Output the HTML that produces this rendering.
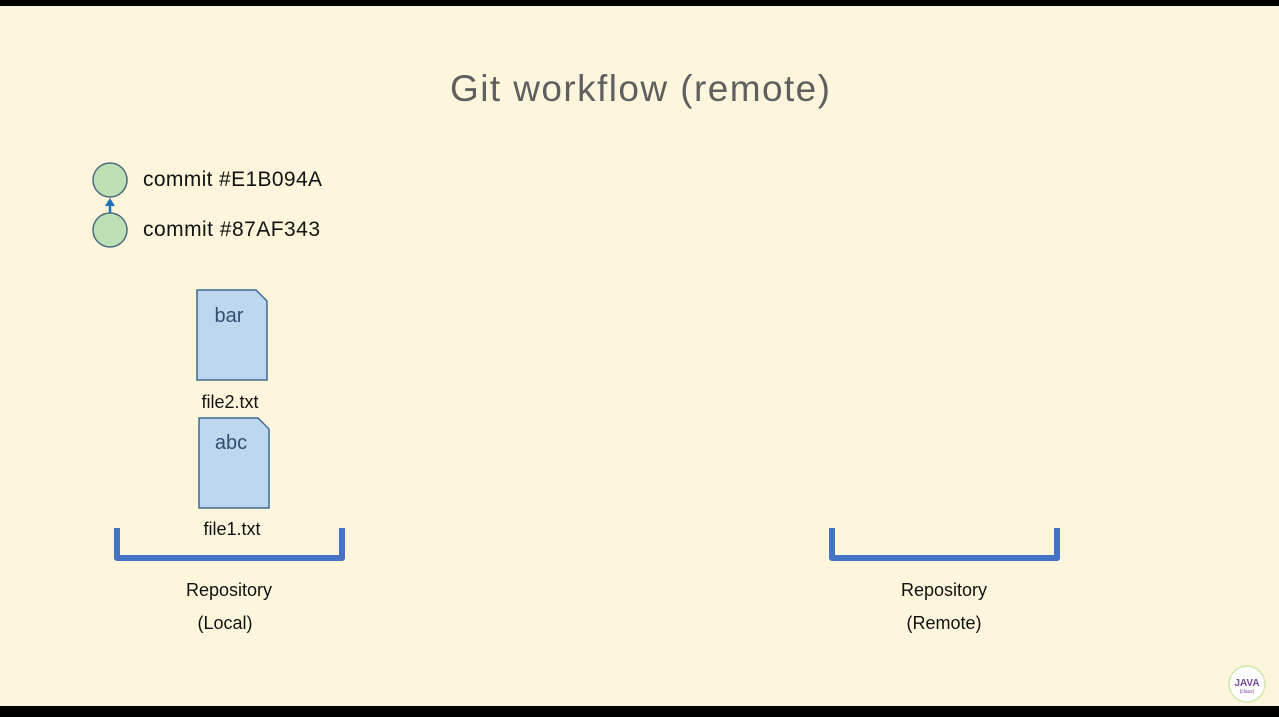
<!DOCTYPE html>
<html><head><meta charset="utf-8"><style>
html,body{margin:0;padding:0;background:#fef6dc;}
svg{display:block;font-family:"Liberation Sans",sans-serif;}
</style></head><body>
<svg width="1279" height="717" viewBox="0 0 1279 717">
<rect x="0" y="0" width="1279" height="717" fill="#fef6dc"/>
<rect x="0" y="0" width="1279" height="6" fill="#000"/>
<rect x="0" y="706" width="1279" height="11" fill="#000"/>
<text x="450" y="101" textLength="380" lengthAdjust="spacing" font-size="37" fill="#5f5f5f">Git workflow (remote)</text>

<g>
<circle cx="110" cy="180" r="17" fill="#bde0b4" stroke="#4d6a80" stroke-width="1.5"/>
<circle cx="110" cy="230" r="17" fill="#bde0b4" stroke="#4d6a80" stroke-width="1.5"/>
<line x1="110" y1="213" x2="110" y2="204" stroke="#1f6fb5" stroke-width="2.5"/>
<polygon points="105,206 115,206 110,198" fill="#1f6fb5"/>
<text x="143" y="186" textLength="179" lengthAdjust="spacing" font-size="21" fill="#111">commit #E1B094A</text>
<text x="143" y="236" textLength="177" lengthAdjust="spacing" font-size="21" fill="#111">commit #87AF343</text>
</g>

<g>
<polygon points="197,290 256,290 267,301 267,380 197,380" fill="#bdd7ee" stroke="#3e6a92" stroke-width="1.5"/>
<text x="229" y="322" text-anchor="middle" font-size="20" fill="#2f4f6f">bar</text>
</g>
<text x="230" y="408" text-anchor="middle" font-size="18" fill="#111">file2.txt</text>

<g>
<polygon points="199,418 258,418 269,429 269,508 199,508" fill="#bdd7ee" stroke="#3e6a92" stroke-width="1.5"/>
<text x="231" y="449" text-anchor="middle" font-size="20" fill="#2f4f6f">abc</text>
</g>
<text x="232" y="535" text-anchor="middle" font-size="18" fill="#111">file1.txt</text>

<path d="M117,528 L117,558 L342,558 L342,528" fill="none" stroke="#4472c4" stroke-width="6" stroke-linejoin="round"/>
<text x="229" y="596" text-anchor="middle" font-size="18" fill="#111">Repository</text>
<text x="225" y="629" text-anchor="middle" font-size="18" fill="#111">(Local)</text>

<path d="M832,528 L832,558 L1057,558 L1057,528" fill="none" stroke="#4472c4" stroke-width="6" stroke-linejoin="round"/>
<text x="944" y="596" text-anchor="middle" font-size="18" fill="#111">Repository</text>
<text x="944" y="629" text-anchor="middle" font-size="18" fill="#111">(Remote)</text>

<g>
<circle cx="1247" cy="684" r="18" fill="#fff" stroke="#cfe8b0" stroke-width="1.5"/>
<text x="1247" y="686" text-anchor="middle" font-size="10" font-weight="bold" fill="#7a4aa0">JAVA</text>
<text x="1247" y="693" text-anchor="middle" font-size="5" fill="#7a4aa0">{class}</text>
</g>
</svg>
</body></html>
